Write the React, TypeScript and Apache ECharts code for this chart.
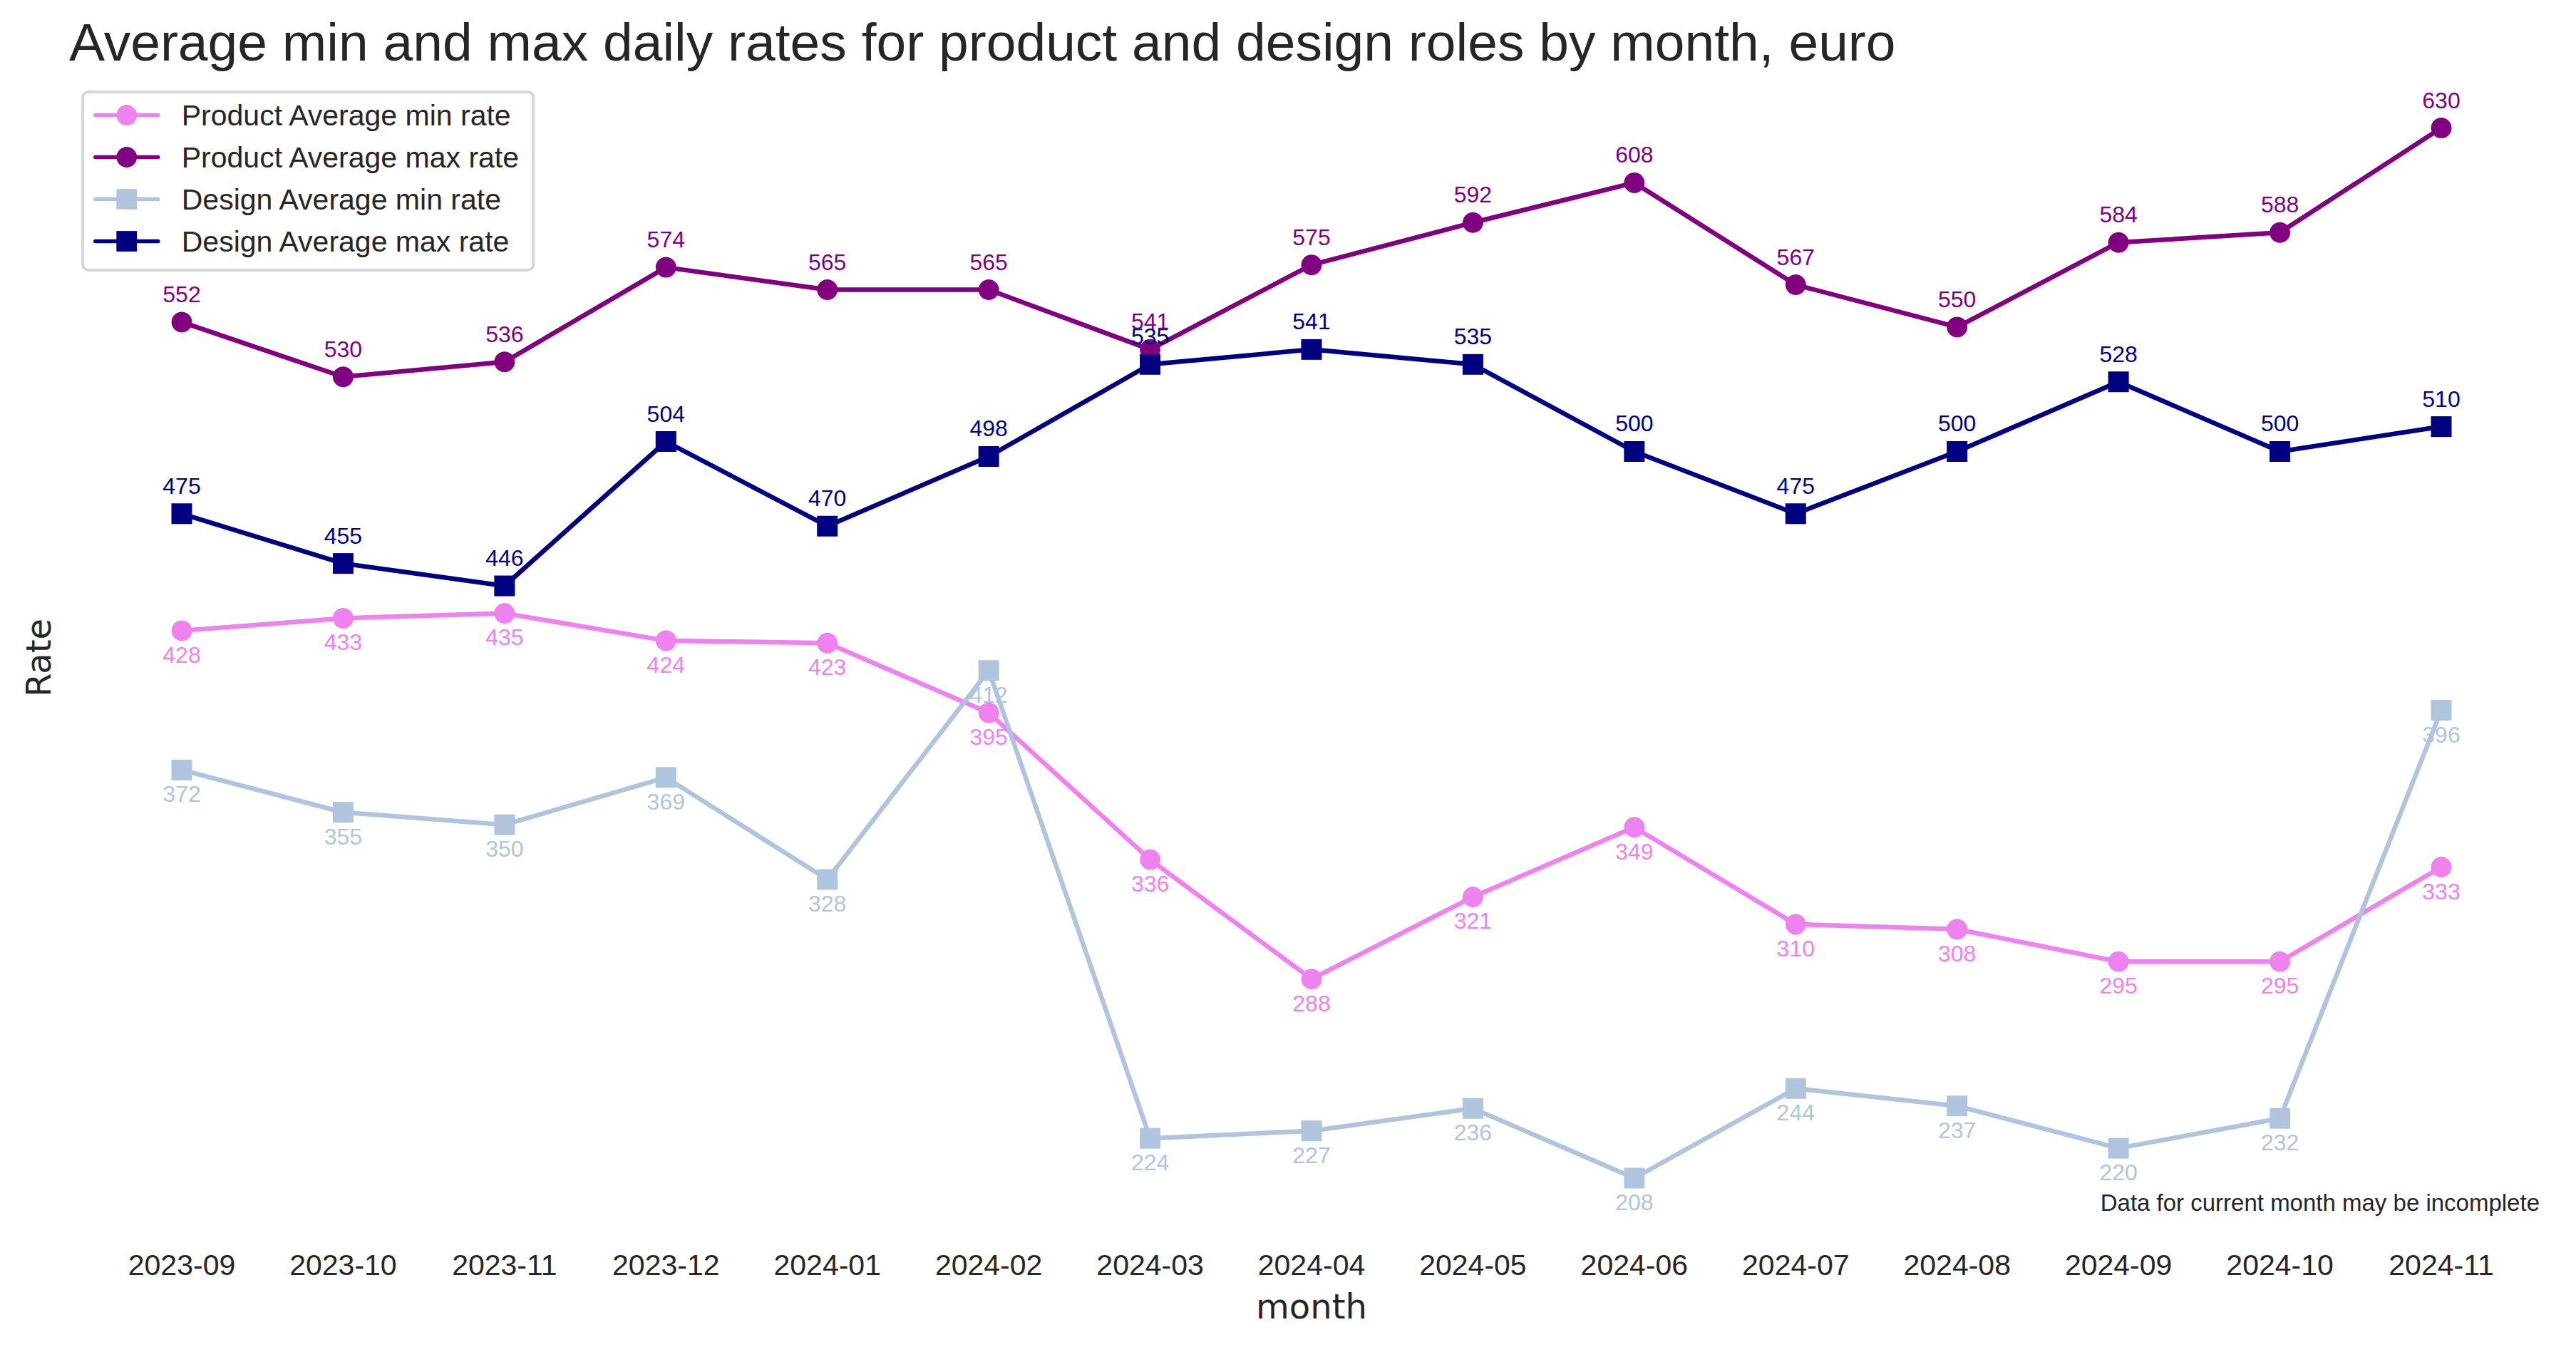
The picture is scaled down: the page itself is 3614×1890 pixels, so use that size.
import React, { useEffect, useRef } from 'react';
import * as echarts from 'echarts';

const months = [
  '2023-09', '2023-10', '2023-11', '2023-12', '2024-01', '2024-02', '2024-03', '2024-04',
  '2024-05', '2024-06', '2024-07', '2024-08', '2024-09', '2024-10', '2024-11',
];
const productMin = [428, 433, 435, 424, 423, 395, 336, 288, 321, 349, 310, 308, 295, 295, 333];
const productMax = [552, 530, 536, 574, 565, 565, 541, 575, 592, 608, 567, 550, 584, 588, 630];
const designMin = [372, 355, 350, 369, 328, 412, 224, 227, 236, 208, 244, 237, 220, 232, 396];
const designMax = [475, 455, 446, 504, 470, 498, 535, 541, 535, 500, 475, 500, 528, 500, 510];

const seriesNames = [
  'Product Average min rate',
  'Product Average max rate',
  'Design Average min rate',
  'Design Average max rate',
];
const colors = ['#EE82EE', '#800080', '#B0C4DE', '#000080'];

const titleText = 'Average min and max daily rates for product and design roles by month, euro';
const footnote = 'Data for current month may be incomplete';
const xName = 'month';
const yName = 'Rate';

const SANS = 'Liberation Sans, Arial, sans-serif';
const DEJA = 'DejaVu Sans, sans-serif';
const TEXT = '#262626';

export default function App() {
  const ref = useRef<HTMLDivElement>(null);
  useEffect(() => {
    document.body.style.margin = '0';
    const chart = echarts.init(ref.current!, null, { renderer: 'svg' });
    const mk = (i: number, data: number[], symbol: string, above: boolean) => ({
      type: 'line',
      name: seriesNames[i],
      data,
      symbol,
      symbolSize: 29,
      showAllSymbol: true,
      lineStyle: { color: colors[i], width: 6.5 },
      itemStyle: { color: colors[i] },
      label: {
        show: true,
        position: 'inside',
        offset: [0, above ? -39 : 34],
        color: colors[i],
        fontSize: 32,
        fontFamily: SANS,
      },
      emphasis: { disabled: true },
    });
    chart.setOption({
      animation: false,
      backgroundColor: '#ffffff',
      grid: { left: 255, right: 189, top: 179.6, bottom: 237 },
      xAxis: {
        type: 'category',
        data: months,
        boundaryGap: false,
        axisLine: { show: false },
        axisTick: { show: false },
        splitLine: { show: false },
        axisLabel: { fontSize: 41, color: TEXT, fontFamily: SANS, margin: 101 },
      },
      yAxis: {
        type: 'value',
        min: 208,
        max: 630,
        axisLine: { show: false },
        axisTick: { show: false },
        axisLabel: { show: false },
        splitLine: { show: false },
      },
      legend: {
        orient: 'vertical',
        left: 116,
        top: 129,
        itemWidth: 88,
        itemHeight: 36,
        itemGap: 18,
        padding: [12, 18, 20, 15],
        borderColor: '#d6d6d6',
        borderWidth: 4,
        borderRadius: 8,
        backgroundColor: 'rgba(255,255,255,0.8)',
        lineStyle: { width: 5.5, cap: 'round' },
        textStyle: { fontSize: 41, color: TEXT, fontFamily: SANS, padding: [0, 0, 0, 28] },
        data: seriesNames,
      },
      series: [
        mk(0, productMin, 'circle', false),
        mk(1, productMax, 'circle', true),
        mk(2, designMin, 'rect', false),
        mk(3, designMax, 'rect', true),
      ],
      graphic: [
        {
          type: 'text',
          x: 97,
          y: 59,
          style: { text: titleText, fontSize: 75, fontFamily: SANS, fill: TEXT, align: 'left', verticalAlign: 'middle' },
        },
        {
          type: 'text',
          x: 53.5,
          y: 923,
          rotation: Math.PI / 2,
          style: { text: yName, fontSize: 48, fontFamily: DEJA, fill: TEXT, align: 'center', verticalAlign: 'middle' },
        },
        {
          type: 'text',
          x: 1840,
          y: 1833,
          style: { text: xName, fontSize: 48, fontFamily: DEJA, fill: TEXT, align: 'center', verticalAlign: 'middle' },
        },
        {
          type: 'text',
          x: 3563,
          y: 1687,
          style: { text: footnote, fontSize: 33, fontFamily: SANS, fill: TEXT, align: 'right', verticalAlign: 'middle' },
        },
      ],
    });
    return () => chart.dispose();
  }, []);
  return <div ref={ref} style={{ width: 3614, height: 1890 }} />;
}
